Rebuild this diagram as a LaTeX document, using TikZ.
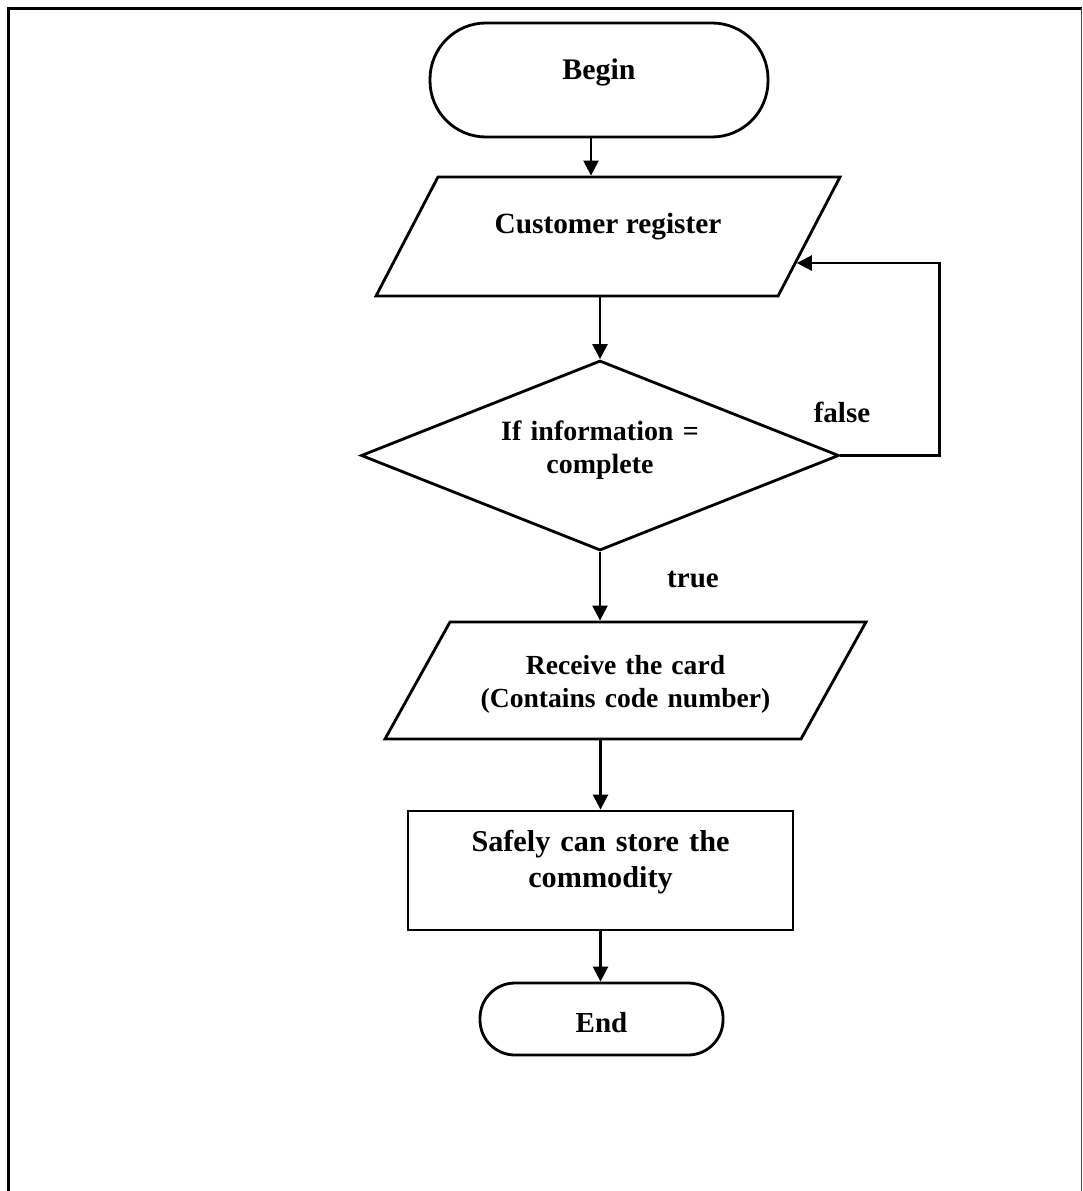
\documentclass[tikz,border=0pt]{standalone}
\usepackage{fontspec}
\setmainfont{Liberation Serif}
\definecolor{flowblack}{RGB}{0,0,0}
\definecolor{framegray}{RGB}{70,70,70}
\usetikzlibrary{arrows.meta,shapes.geometric}

\begin{document}
\begin{tikzpicture}[
        lbl/.style={font=\fontsize{16.5}{20}\selectfont\bfseries},
        term/.style={rectangle,draw=flowblack,line width=1.6pt,font=\fontsize{17}{20}\selectfont\bfseries},
        iobox/.style={trapezium,trapezium stretches body,draw=flowblack,line width=1.6pt,align=center,inner ysep=0pt},
        procbox/.style={rectangle,draw=flowblack,line width=1.6pt,align=center},
        flow/.style={-{Triangle[length=0.3cm,width=0.3cm]},line width=1.4pt,flowblack}]

        \useasboundingbox (0,0) rectangle (21.66,-23.82);
        \draw[line width=1.7pt] (0.166,-23.82) -- (0.166,-0.166) -- (21.63,-0.166);
        \draw[line width=1pt,framegray] (21.63,-0.166) -- (21.63,-23.82);

        \node[term,rounded corners=1.12cm,minimum width=6.76cm,minimum height=2.28cm,
              text height=0pt,text depth=0pt]
              (begin) at (11.98,-1.60) {Begin};
        \node[iobox,trapezium left angle=62.5,trapezium right angle=117.5,
              minimum width=9.28cm,minimum height=2.38cm,text height=1.14cm,text depth=1.24cm,
              font=\fontsize{16.7}{20}\selectfont\bfseries]
              (custreg) at (12.16,-4.73) {Customer register};
        \node[diamond,aspect=2.52,draw=flowblack,line width=1.6pt,align=center,
              minimum width=9.56cm,minimum height=3.80cm,text width=4.3cm,
              text height=0pt,text depth=0.62cm,font=\fontsize{15.9}{18.8}\selectfont\bfseries]
              (dec) at (12.0,-9.11) {If information =\\complete};
        \node[iobox,trapezium left angle=60.94,trapezium right angle=119.06,
              minimum width=9.62cm,minimum height=2.34cm,text width=6.2cm,
              text height=1.04cm,text depth=1.30cm,font=\fontsize{15.7}{19.3}\selectfont\bfseries]
              (getcard) at (12.51,-13.61) {Receive the card\\(Contains code number)};
        \node[procbox,minimum width=7.70cm,minimum height=2.38cm,text width=6.6cm,
              text height=0pt,text depth=0.78cm,font=\fontsize{17.2}{21}\selectfont\bfseries]
              (store) at (12.01,-17.41) {Safely can store the\\commodity};
        \node[term,rounded corners=0.7cm,minimum width=4.86cm,minimum height=1.44cm,
              text height=0.52cm,text depth=0pt,font=\fontsize{16.5}{20}\selectfont\bfseries]
              (finish) at (12.03,-20.38) {End};

        \node[lbl] (falselbl) at (16.84,-8.24) {false};
        \node[lbl] (truelbl) at (13.86,-11.60) {true};

        \draw[flow] ([xshift=-0.16cm]begin.south) -- ([xshift=-0.16cm]begin.south |- custreg.north);
        \draw[flow] (dec.north |- custreg.south) -- (dec.north);
        \draw[flow] (dec.south) -- (dec.south |- getcard.north);
        \draw[flow] (store.north |- getcard.south) -- (store.north);
        \draw[flow] (store.south) -- (store.south |- finish.north);
        \draw[flow] (dec.east) -- ++(1.98,0) |- (custreg.-8);

    \end{tikzpicture}
\end{document}
